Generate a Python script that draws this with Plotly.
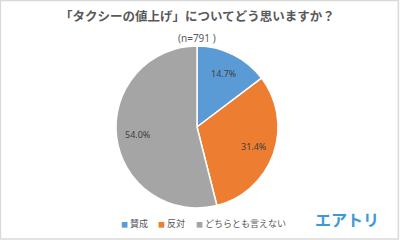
import math
import plotly.graph_objects as go

labels = ["賛成", "反対", "どちらとも言えない"]
values = [14.7, 31.4, 54.0]
colors = ["#5b9bd5", "#ed7d31", "#a5a5a5"]
title_text = "「タクシーの値上げ」についてどう思いますか？"
subtitle_text = "(n=791 )"
logo_text = "エアトリ"

FONT = "Noto Sans CJK JP"
W, H = 400, 240
CX, CY, R = 197, 127, 81

fig = go.Figure(go.Pie(
    labels=labels, values=values, sort=False, direction="clockwise", rotation=0,
    marker=dict(colors=colors, line=dict(color="white", width=1.5)),
    textinfo="none",
    domain=dict(x=[(CX - R) / W, (CX + R) / W], y=[1 - (CY + R) / H, 1 - (CY - R) / H]),
    showlegend=False, hoverinfo="label+value",
))

anns = [
    dict(text="<b>" + title_text + "</b>", x=0.4925, y=1 - 16 / 240, xref="paper", yref="paper",
         showarrow=False, font=dict(family=FONT, size=12.5, color="#595959"), xanchor="center", yanchor="middle"),
    dict(text=subtitle_text, x=0.4925, y=1 - 38 / 240, xref="paper", yref="paper",
         showarrow=False, font=dict(family="Noto Sans", size=10, color="#595959"), xanchor="center", yanchor="middle"),
    dict(text="<b>" + logo_text + "</b>", x=347 / 400, y=1 - 219 / 240, xref="paper", yref="paper",
         showarrow=False, font=dict(family=FONT, size=16, color="#3d9ad6"), xanchor="center", yanchor="middle"),
]

# percentage labels placed at mid-angle of each slice
total = sum(values)
cum = 0.0
for v in values:
    mid = (cum + v / 2) / total * 2 * math.pi
    cum += v
    rr = 0.74 * R
    px = CX + rr * math.sin(mid)
    py = CY - rr * math.cos(mid)
    anns.append(dict(text="%.1f%%" % v, x=px / W, y=1 - py / H, xref="paper", yref="paper",
                     showarrow=False, font=dict(family="Noto Sans", size=9, color="#404040"),
                     xanchor="center", yanchor="middle"))

legend_x = [119, 156, 194]
for lx, lab, col in zip(legend_x, labels, colors):
    anns.append(dict(
        text="<span style='color:%s;font-size:7px'>■</span> %s" % (col, lab),
        x=lx / 400, y=1 - 223 / 240, xref="paper", yref="paper", showarrow=False,
        font=dict(family=FONT, size=9, color="#595959"), xanchor="left", yanchor="middle"))

fig.update_layout(
    width=W, height=H, margin=dict(l=0, r=0, t=0, b=0),
    paper_bgcolor="white", plot_bgcolor="white",
    annotations=anns,
    shapes=[dict(type="rect", xref="paper", yref="paper", x0=0.001, y0=0.004, x1=0.996, y1=0.998,
                 line=dict(color="#d9d9d9", width=1.5))],
)
fig.write_html("out.html")
